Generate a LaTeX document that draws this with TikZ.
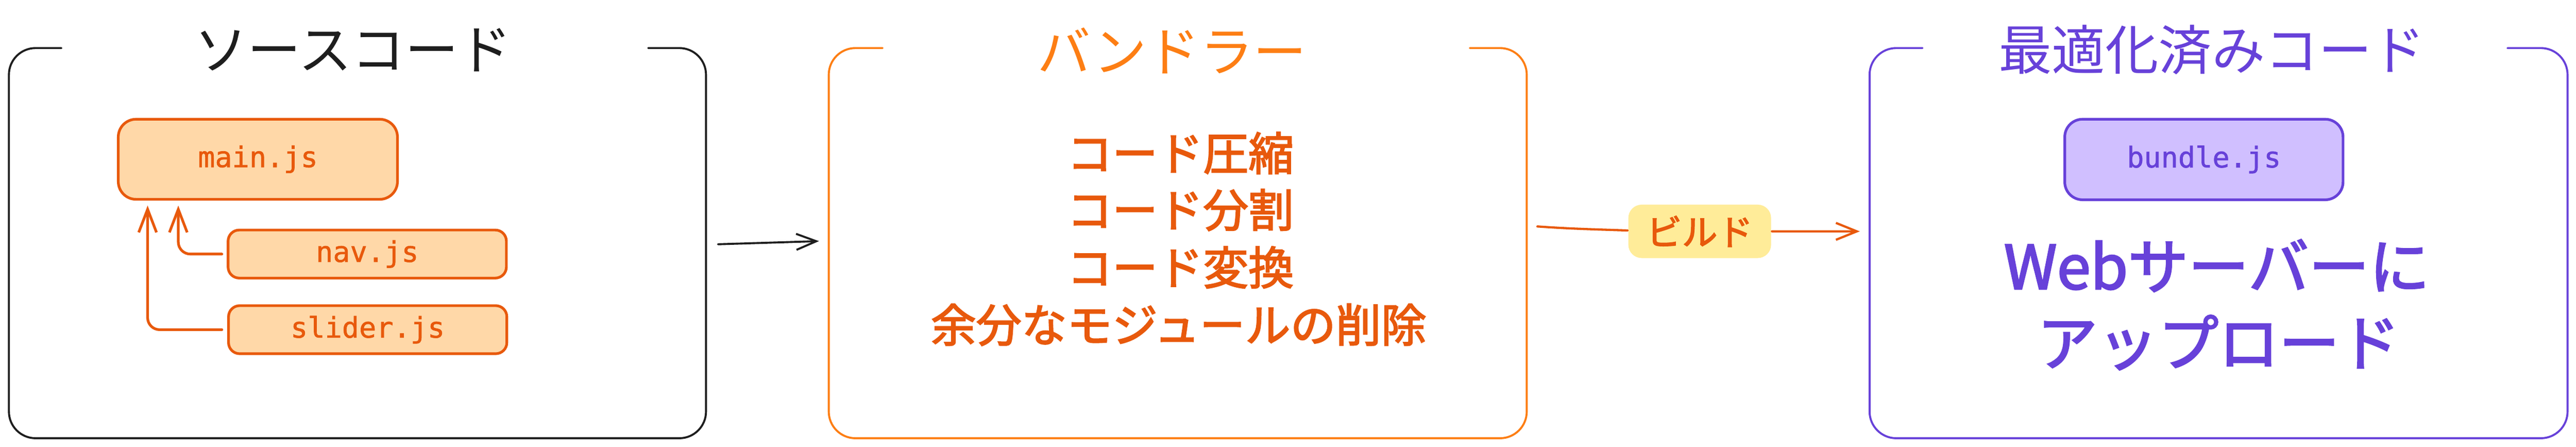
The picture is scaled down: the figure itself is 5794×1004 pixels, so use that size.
\documentclass[tikz,border=0pt]{standalone}
\usepackage{fontspec}
\newfontfamily\jpf{Noto Sans CJK JP}
\newfontfamily\jpm[FakeBold=2.5]{Noto Sans CJK JP}
\newfontfamily\codef[FakeBold=1.2]{DejaVu Sans Mono}
\usetikzlibrary{arrows.meta,calc}
\definecolor{ink}{HTML}{1E1E1E}
\definecolor{lorange}{HTML}{FD7E14}
\definecolor{dorange}{HTML}{E8590C}
\definecolor{forange}{HTML}{FFD8A8}
\definecolor{violet}{HTML}{6741D9}
\definecolor{fviolet}{HTML}{D0BFFF}
\definecolor{fyellow}{HTML}{FFEC99}
\tikzset{
  framebox/.style={inner sep=0pt, outer sep=0pt, minimum height=87.7pt},
  frameline/.style={line width=0.45pt, rounded corners=6pt, line cap=round},
  filebox/.style={draw=dorange, fill=forange, line width=0.6pt, inner sep=0pt,
    text=dorange, font=\codef\fontsize{6.4}{7}\selectfont},
  bundlebox/.style={draw=violet, fill=fviolet, line width=0.6pt, inner sep=0pt,
    text=violet, font=\codef\fontsize{6.4}{7}\selectfont},
  titletext/.style={inner sep=0pt, font=\jpf\fontsize{12}{14}\selectfont},
  bndltext/.style={inner sep=0pt, text=dorange, font=\jpm\fontsize{10.2}{12}\selectfont},
  opttext/.style={inner sep=0pt, text=violet, font=\jpm\fontsize{13.6}{16}\selectfont},
  labelbox/.style={fill=fyellow, rounded corners=3pt, inner sep=0pt, minimum width=32.1pt,
    minimum height=12pt, text=dorange, font=\jpm\fontsize{8}{9}\selectfont},
  farr/.style={draw=dorange, line width=0.6pt, line cap=round, rounded corners=2.7pt,
    -{Straight Barb[length=5.2pt,width=4pt]}},
  barr/.style={draw=ink, line width=0.45pt, line cap=round,
    -{Straight Barb[length=4.5pt,width=3.6pt]}},
  oarr/.style={draw=dorange, line width=0.5pt, line cap=round},
  oarrtip/.style={oarr, -{Straight Barb[length=4.7pt,width=3.8pt]}}
}
\begin{document}
\begin{tikzpicture}[x=0.1pt,y=-0.1pt]
\fill[white] (0,0) rectangle (5794,1004);
\useasboundingbox (0,0) rectangle (5794,1004);

% frames (containers)
\node[framebox, minimum width=156.8pt] (src) at (804,546.5) {};
\node[framebox, minimum width=157.0pt] (bndl) at (2649,546.5) {};
\node[framebox, minimum width=157.0pt] (opt) at (4990,546.5) {};

\draw[frameline, draw=ink] ([xshift=11.8pt]src.north west) -- (src.north west) -- (src.south west)
  -- (src.south east) -- (src.north east) -- ([xshift=-13pt]src.north east);
\draw[frameline, draw=lorange] ([xshift=12.1pt]bndl.north west) -- (bndl.north west) -- (bndl.south west)
  -- (bndl.south east) -- (bndl.north east) -- ([xshift=-12.8pt]bndl.north east);
\draw[frameline, draw=violet] ([xshift=11.9pt]opt.north west) -- (opt.north west) -- (opt.south west)
  -- (opt.south east) -- (opt.north east) -- ([xshift=-13.5pt]opt.north east);

% titles
\node[titletext, text=ink] (t1) at (794,112) {ソースコード};
\node[titletext, text=lorange] (t2) at (2636,114) {バンドラー};
\node[titletext, text=violet] (t3) at (4975,112) {最適化済みコード};

% source files
\node[filebox, rounded corners=4pt, minimum width=62.8pt, minimum height=18pt] (mainf) at (580,358) {main.js};
\node[filebox, rounded corners=2.5pt, minimum width=62.6pt, minimum height=10.8pt] (navf) at (826,571) {nav.js};
\node[filebox, rounded corners=2.5pt, minimum width=62.6pt, minimum height=10.8pt] (sliderf) at (827,741) {slider.js};

\draw[farr] ([xshift=-1.1pt]navf.west) -| ($(mainf.south west)+(138,11)$);
\draw[farr] ([xshift=-1.2pt]sliderf.west) -| ($(mainf.south west)+(69,11)$);

% bundler texts
\node[bndltext] (b1) at (2655,344) {コード圧縮};
\node[bndltext] (b2) at (2655,472) {コード分割};
\node[bndltext] (b3) at (2655,601) {コード変換};
\node[bndltext] (b4) at (2651,730) {余分なモジュールの削除};

% optimized
\node[bundlebox, rounded corners=4pt, minimum width=62.6pt, minimum height=18.1pt] (bundlef) at (4957,358.5) {bundle.js};
\node[opttext] (o1) at (4986,597) {Webサーバーに};
\node[opttext] (o2) at (4990,770) {アップロード};

% connectors
\draw[barr] ([xshift=2.7pt,yshift=-0.25pt]src.east) -- ([xshift=-2.2pt,yshift=0.45pt]bndl.west);

\node[labelbox] (lab) at (3823,520) {ビルド};
\draw[oarr] ([xshift=2.4pt,yshift=3.75pt]bndl.east) to[out=-4,in=178] ([yshift=0.2pt]lab.west);
\draw[oarrtip] (lab.east) -- ([xshift=-2.2pt,yshift=2.65pt]opt.west);
\end{tikzpicture}
\end{document}
